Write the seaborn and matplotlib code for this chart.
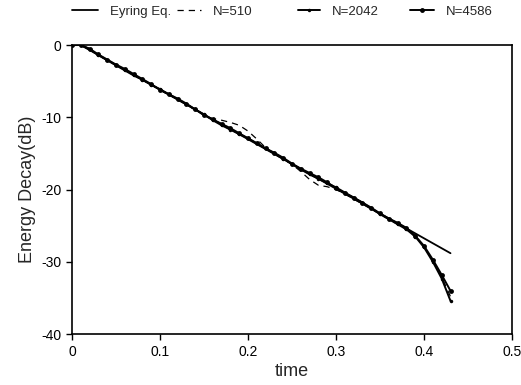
import numpy as np
import pandas as pd
import matplotlib
matplotlib.use('Agg')
import matplotlib.pyplot as plt
import seaborn as sns

# time samples for the simulated decays
time = [0.00, 0.01, 0.02, 0.03, 0.04, 0.05, 0.06, 0.07, 0.08, 0.09,
        0.10, 0.11, 0.12, 0.13, 0.14, 0.15, 0.16, 0.17, 0.18, 0.19,
        0.20, 0.21, 0.22, 0.23, 0.24, 0.25, 0.26, 0.27, 0.28, 0.29,
        0.30, 0.31, 0.32, 0.33, 0.34, 0.35, 0.36, 0.37, 0.38, 0.39,
        0.40, 0.41, 0.42, 0.43]

n510 = [0.0, 0.0, -0.5, -1.4, -2.1, -2.8, -3.4, -4.1, -4.8, -5.5,
        -6.2, -6.9, -7.5, -8.2, -9.0, -9.7, -10.2, -10.4, -10.7, -11.1,
        -11.9, -13.0, -14.2, -15.1, -15.8, -16.5, -17.5, -18.6, -19.4, -19.6,
        -20.0, -20.6, -21.3, -22.0, -22.7, -23.4, -24.1, -24.8, -25.5, -26.5,
        -27.9, -29.9, -32.1, -34.8]

n2042 = [0.0, 0.0, -0.6, -1.4, -2.1, -2.8, -3.5, -4.2, -4.8, -5.5,
         -6.1, -6.8, -7.5, -8.2, -8.9, -9.6, -10.4, -11.1, -11.7, -12.3,
         -12.9, -13.6, -14.3, -15.0, -15.7, -16.5, -17.2, -17.9, -18.5, -19.1,
         -19.7, -20.4, -21.1, -21.8, -22.6, -23.4, -24.1, -24.8, -25.5, -26.5,
         -28.0, -30.0, -32.3, -35.4]

n4586 = [0.0, 0.0, -0.5, -1.3, -2.0, -2.7, -3.3, -4.0, -4.7, -5.4,
         -6.2, -6.8, -7.4, -8.1, -8.9, -9.7, -10.3, -10.9, -11.5, -12.2,
         -12.9, -13.6, -14.3, -14.9, -15.6, -16.4, -17.1, -17.7, -18.3, -19.0,
         -19.8, -20.5, -21.1, -21.8, -22.5, -23.3, -24.0, -24.6, -25.3, -26.4,
         -27.8, -29.7, -31.8, -34.0]

# Eyring equation: straight line
eyring_t = [0.01, 0.43]
eyring_db = [0.0, -28.8]

xticks = [0, 0.1, 0.2, 0.3, 0.4, 0.5]
xtick_labels = ['0', '0.1', '0.2', '0.3', '0.4', '0.5']
yticks = [0, -10, -20, -30, -40]

sns.set_style("ticks")
plt.rcParams['font.family'] = ['Liberation Sans', 'DejaVu Sans']
plt.rcParams['axes.unicode_minus'] = False

fig = plt.figure(figsize=(5.21, 3.85), dpi=100)
ax = fig.add_axes([0.138, 0.132, 0.845, 0.751])

sns.lineplot(x=eyring_t, y=eyring_db, color='black', lw=1.3, ax=ax, label='Eyring Eq.')
sns.lineplot(x=time, y=n510, color='black', lw=0.9, ls=(0, (5, 4)), ax=ax, label='N=510')
sns.lineplot(x=time, y=n2042, color='black', lw=1.4, marker='o', ms=2.5, mew=0, ax=ax, label='N=2042')
sns.lineplot(x=time, y=n4586, color='black', lw=1.4, marker='o', ms=3.5, mew=0, ax=ax, label='N=4586')

ax.set_xlim(0, 0.5)
ax.set_ylim(-40, 0)
ax.set_xticks(xticks)
ax.set_xticklabels(xtick_labels)
ax.set_yticks(yticks)
ax.tick_params(labelsize=10, length=4, width=1, color='black', labelcolor='black')
for s in ax.spines.values():
    s.set_color('black')
    s.set_linewidth(1.2)
ax.set_xlabel('time', fontsize=13, labelpad=3)
ax.set_ylabel('Energy Decay(dB)', fontsize=13)

handles, labels = ax.get_legend_handles_labels()
ax.get_legend().remove()
# one small legend per entry, placed like the reference's header row
starts = [72, 177, 298, 410]
hlens = [2.0, 1.8, 1.7, 1.8]
for h, lab, x0, hl in zip(handles, labels, starts, hlens):
    fig.legend([h], [lab], loc='upper left', bbox_to_anchor=(x0 / 521, 0.985),
               frameon=False, fontsize=9.5, handlelength=hl, handletextpad=0.9,
               borderpad=0, borderaxespad=0)

fig.savefig('out.png', dpi=100)
